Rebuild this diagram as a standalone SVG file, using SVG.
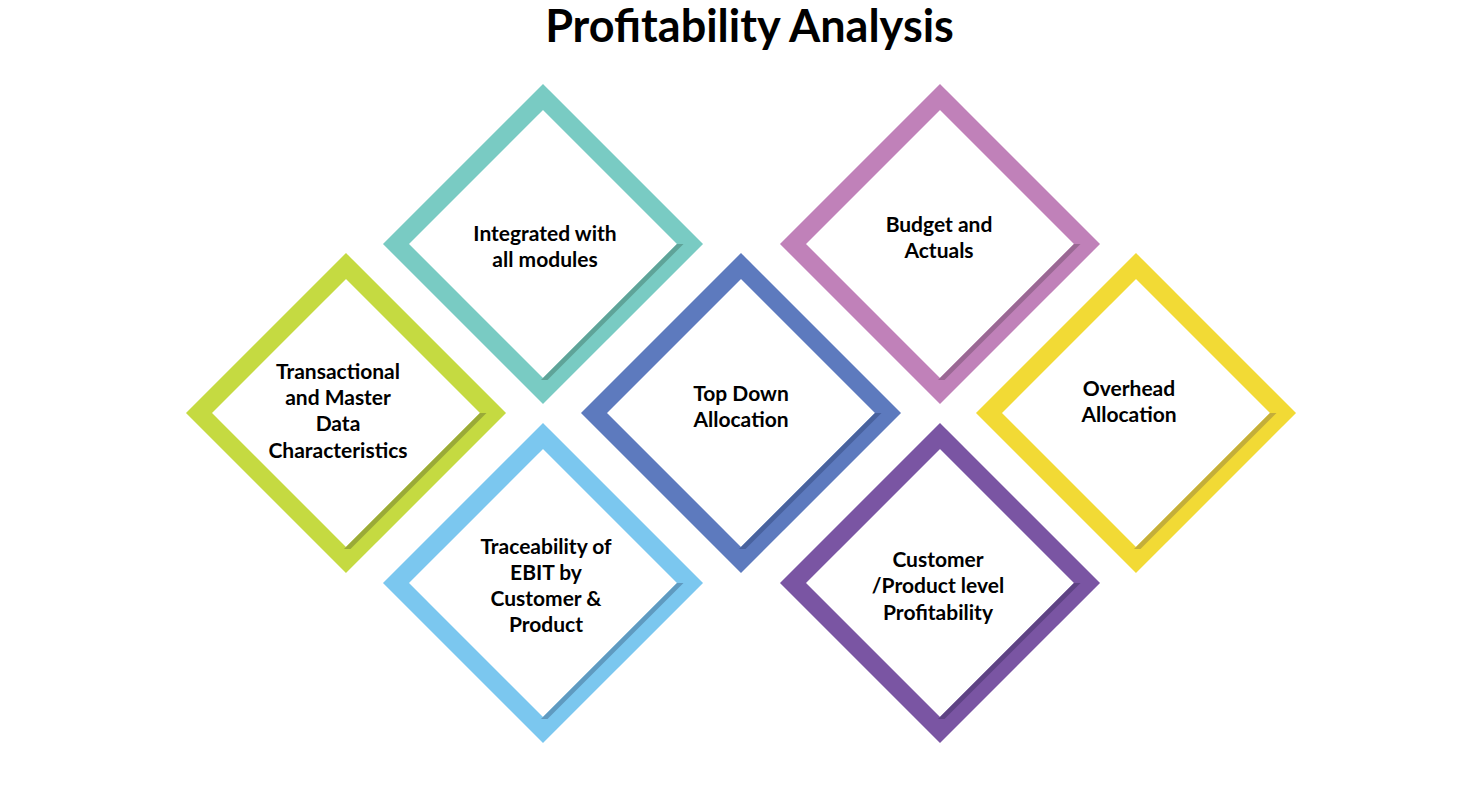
<svg xmlns="http://www.w3.org/2000/svg" width="1482" height="804" viewBox="0 0 1482 804">
<style>
.frame{fill:none;stroke-width:18.4;stroke-linejoin:miter;stroke-miterlimit:4}
.title{font-family:"Lato","Liberation Sans",sans-serif;font-weight:700;font-size:45px;fill:#000}
.lbl{font-family:"Lato","Liberation Sans",sans-serif;font-weight:700;font-size:21px;fill:#000;text-anchor:middle}
.c1 .frame{stroke:#C5DA41}.c1 .sh{fill:#9AAA38}
.c2 .frame{stroke:#79CBC3}.c2 .sh{fill:#5FA398}
.c3 .frame{stroke:#7BC7EF}.c3 .sh{fill:#5F9AC0}
.c4 .frame{stroke:#5D7ABE}.c4 .sh{fill:#48629E}
.c5 .frame{stroke:#C081B9}.c5 .sh{fill:#9A6894}
.c6 .frame{stroke:#7A55A3}.c6 .sh{fill:#5E4384}
.c7 .frame{stroke:#F2DA35}.c7 .sh{fill:#C4AE3A}
</style>
<defs>
<path id="dia" d="M0,-147 L147,0 L0,147 L-147,0 Z"/>
<polygon id="shadow" points="134,0 140.5,0 4.5,136 -2,136"/>
</defs>
<rect width="1482" height="804" fill="#fff"/>
<text class="title" x="749.5" y="42" text-anchor="middle">Profitability Analysis</text>

<g id="node-transactional" class="c1" transform="translate(346,413)">
<use href="#dia" class="frame"/>
<use href="#shadow" class="sh"/>
<text class="lbl" x="-8" y="-34.5">Transactional</text>
<text class="lbl" x="-8" y="-8.5">and Master</text>
<text class="lbl" x="-8" y="18">Data</text>
<text class="lbl" x="-8" y="44.5">Characteristics</text>
</g>

<g id="node-integrated" class="c2" transform="translate(543,244)">
<use href="#dia" class="frame"/>
<use href="#shadow" class="sh"/>
<text class="lbl" x="2" y="-3.5">Integrated with</text>
<text class="lbl" x="2" y="23">all modules</text>
</g>

<g id="node-traceability" class="c3" transform="translate(543,583)">
<use href="#dia" class="frame"/>
<use href="#shadow" class="sh"/>
<text class="lbl" x="3" y="-29">Traceability of</text>
<text class="lbl" x="3" y="-3">EBIT by</text>
<text class="lbl" x="3" y="23">Customer &amp;</text>
<text class="lbl" x="3" y="49">Product</text>
</g>

<g id="node-topdown" class="c4" transform="translate(741,413)">
<use href="#dia" class="frame"/>
<use href="#shadow" class="sh"/>
<text class="lbl" x="0" y="-12.5">Top Down</text>
<text class="lbl" x="0" y="14">Allocation</text>
</g>

<g id="node-budget" class="c5" transform="translate(940,244)">
<use href="#dia" class="frame"/>
<use href="#shadow" class="sh"/>
<text class="lbl" x="-1" y="-12.5">Budget and</text>
<text class="lbl" x="-1" y="14">Actuals</text>
</g>

<g id="node-customer" class="c6" transform="translate(940,583)">
<use href="#dia" class="frame"/>
<use href="#shadow" class="sh"/>
<text class="lbl" x="-2" y="-16.5">Customer</text>
<text class="lbl" x="-2" y="10">/Product level</text>
<text class="lbl" x="-2" y="36.5">Profitability</text>
</g>

<g id="node-overhead" class="c7" transform="translate(1136,413)">
<use href="#dia" class="frame"/>
<use href="#shadow" class="sh"/>
<text class="lbl" x="-7" y="-17.5">Overhead</text>
<text class="lbl" x="-7" y="9">Allocation</text>
</g>

<g id="connectors"></g>
</svg>
